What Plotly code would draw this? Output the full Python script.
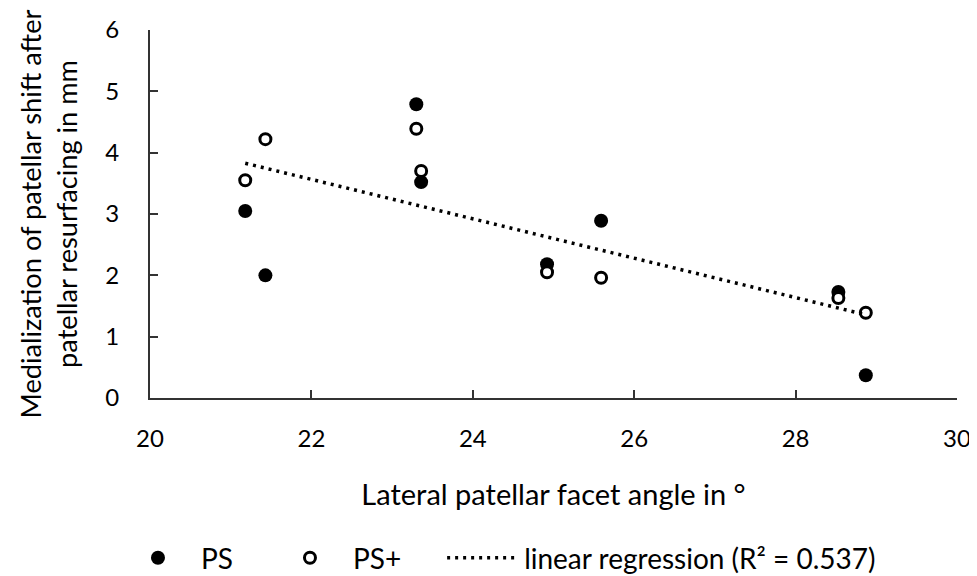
import numpy as np
import plotly.graph_objects as go

angle = [21.18, 21.43, 23.30, 23.36, 24.92, 25.59, 28.53, 28.87]
ps = [3.05, 2.00, 4.79, 3.52, 2.18, 2.89, 1.73, 0.37]
ps_plus = [3.55, 4.22, 4.39, 3.70, 2.05, 1.96, 1.63, 1.39]

x_ticks = [20, 22, 24, 26, 28, 30]
y_ticks = [0, 1, 2, 3, 4, 5, 6]

all_x = np.array(angle + angle)
all_y = np.array(ps + ps_plus)
slope, intercept = np.polyfit(all_x, all_y, 1)
fit_x = [min(angle), max(angle)]
fit_y = [slope * v + intercept for v in fit_x]

FONT = "Lato"
fig = go.Figure()
fig.add_trace(go.Scatter(x=angle, y=ps, mode="markers", name="PS", legend="legend",
                         marker=dict(symbol="circle", size=14, color="black")))
fig.add_trace(go.Scatter(x=angle, y=ps_plus, mode="markers", name="PS+", legend="legend",
                         marker=dict(symbol="circle", size=11, color="white",
                                     line=dict(color="black", width=3))))
fig.add_trace(go.Scatter(x=fit_x, y=fit_y, mode="lines", name="linear regression (R² = 0.537)",
                         legend="legend2",
                         line=dict(color="black", width=3.5, dash="3px,5px")))

fig.update_layout(
    width=977, height=576,
    margin=dict(l=142, r=28, t=22, b=186, autoexpand=False),
    plot_bgcolor="white", paper_bgcolor="white",
    font=dict(family=FONT, size=22, color="black"),
    showlegend=True,
    legend=dict(orientation="h", x=-0.0434, xanchor="left", y=-0.435, yanchor="middle",
                entrywidth=61, entrywidthmode="pixels", font=dict(size=28),
                itemwidth=76, traceorder="normal"),
    legend2=dict(orientation="h", x=0.362, xanchor="left", y=-0.435, yanchor="middle",
                 font=dict(size=28), itemwidth=72),
    xaxis=dict(range=[20, 30], tickvals=x_ticks, ticks="inside", ticklen=8, tickwidth=2,
               tickcolor="#333", showline=True, linecolor="#333", linewidth=2,
               showgrid=False, zeroline=False, tickfont=dict(size=24), automargin=False,
               title=dict(text="Lateral patellar facet angle in °", font=dict(size=29), standoff=34),
               ticklabelstandoff=18),
    yaxis=dict(range=[0, 6], tickvals=y_ticks, ticks="inside", ticklen=8, tickwidth=2,
               tickcolor="#333", showline=True, linecolor="#333", linewidth=2,
               showgrid=False, zeroline=False, tickfont=dict(size=24), automargin=False,
               title=dict(text="Medialization of patellar shift after<br>patellar resurfacing in mm",
                          font=dict(size=27.2), standoff=20),
               ticklabelstandoff=24),
)
fig.write_html("out.html")
